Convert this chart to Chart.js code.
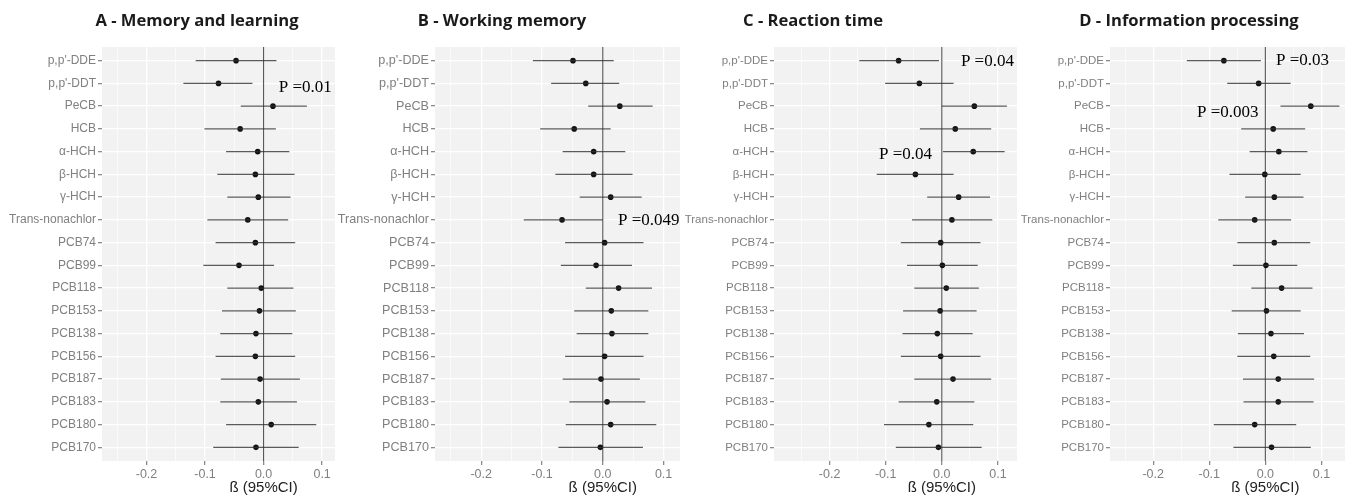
<!DOCTYPE html>
<html>
<head>
<meta charset="utf-8">
<script src="https://cdn.jsdelivr.net/npm/chart.js@4.4.1/dist/chart.umd.min.js"></script>
<style>
  body { margin: 0; background: #fff; width: 1349px; height: 500px; position: relative; overflow: hidden; }
  canvas { position: absolute; top: 0; }
</style>
</head>
<body>
<script>
const pollutants = ["p,p'-DDE", "p,p'-DDT", 'PeCB', 'HCB', 'α-HCH', 'β-HCH', 'γ-HCH', 'Trans-nonachlor',
  'PCB74', 'PCB99', 'PCB118', 'PCB153', 'PCB138', 'PCB156', 'PCB187', 'PCB183', 'PCB180', 'PCB170'];

// A - Memory and learning
const memEst = [-0.047, -0.077, 0.016, -0.040, -0.010, -0.014, -0.009, -0.027, -0.014, -0.042, -0.004, -0.007, -0.013, -0.014, -0.006, -0.009, 0.013, -0.013];
const memLo  = [-0.116, -0.137, -0.039, -0.101, -0.064, -0.079, -0.062, -0.096, -0.082, -0.103, -0.062, -0.071, -0.074, -0.082, -0.073, -0.074, -0.064, -0.086];
const memHi  = [0.022, -0.019, 0.074, 0.021, 0.044, 0.053, 0.046, 0.042, 0.054, 0.018, 0.051, 0.055, 0.049, 0.054, 0.062, 0.057, 0.090, 0.060];

// B - Working memory
const workEst = [-0.049, -0.028, 0.028, -0.047, -0.015, -0.015, 0.013, -0.067, 0.003, -0.011, 0.026, 0.014, 0.015, 0.003, -0.003, 0.007, 0.013, -0.004];
const workLo  = [-0.115, -0.085, -0.024, -0.103, -0.066, -0.078, -0.038, -0.130, -0.062, -0.069, -0.028, -0.047, -0.043, -0.062, -0.066, -0.055, -0.061, -0.073];
const workHi  = [0.018, 0.027, 0.082, 0.013, 0.037, 0.049, 0.064, 0.000, 0.067, 0.048, 0.081, 0.075, 0.075, 0.067, 0.061, 0.070, 0.088, 0.066];

// C - Reaction time
const reactEst = [-0.077, -0.040, 0.058, 0.024, 0.056, -0.047, 0.030, 0.018, -0.002, 0.001, 0.008, -0.003, -0.008, -0.002, 0.020, -0.009, -0.023, -0.006];
const reactLo  = [-0.147, -0.101, 0.000, -0.039, 0.002, -0.116, -0.026, -0.053, -0.073, -0.062, -0.049, -0.069, -0.070, -0.073, -0.049, -0.077, -0.103, -0.082];
const reactHi  = [-0.005, 0.021, 0.116, 0.088, 0.112, 0.021, 0.086, 0.090, 0.069, 0.064, 0.066, 0.062, 0.055, 0.069, 0.088, 0.058, 0.056, 0.071];

// D - Information processing
const infoEst = [-0.074, -0.012, 0.081, 0.014, 0.024, -0.001, 0.016, -0.019, 0.016, 0.001, 0.029, 0.002, 0.010, 0.015, 0.023, 0.023, -0.019, 0.011];
const infoLo  = [-0.140, -0.068, 0.027, -0.043, -0.028, -0.064, -0.036, -0.084, -0.050, -0.058, -0.025, -0.060, -0.049, -0.050, -0.040, -0.039, -0.092, -0.057];
const infoHi  = [-0.008, 0.045, 0.132, 0.071, 0.075, 0.063, 0.068, 0.046, 0.080, 0.057, 0.084, 0.063, 0.069, 0.080, 0.087, 0.086, 0.055, 0.081];

const xGridValues = [-0.25, -0.2, -0.15, -0.1, -0.05, 0, 0.05, 0.1];
const xMajorLabels = { '-0.2': '-0.2', '-0.1': '-0.1', '0': '0.0', '0.1': '0.1' };
const xTitle = 'ß (95%CI)';

const panels = [
  { title: 'A - Memory and learning', titleX: 197, est: memEst, lo: memLo, hi: memHi, xmin: -0.276, xmax: 0.122,
    cl: 0, cr: 394, plotLeft: 102, plotRight: 335, fs: 12,
    notes: [{ x: 0.026, y: 1.2, text: 'P =0.01' }] },
  { title: 'B - Working memory', titleX: 502, est: workEst, lo: workLo, hi: workHi, xmin: -0.276, xmax: 0.127,
    cl: 320, cr: 690, plotLeft: 435, plotRight: 680, fs: 12.6,
    notes: [{ x: 0.025, y: 7.03, text: 'P =0.049' }] },
  { title: 'C - Reaction time', titleX: 813, est: reactEst, lo: reactLo, hi: reactHi, xmin: -0.299, xmax: 0.134,
    cl: 600, cr: 1022, plotLeft: 774, plotRight: 1017, fs: 11.5,
    notes: [{ x: 0.034, y: 0.05, text: 'P =0.04' }, { x: -0.112, y: 4.14, text: 'P =0.04' }] },
  { title: 'D - Information processing', titleX: 1189, est: infoEst, lo: infoLo, hi: infoHi, xmin: -0.277, xmax: 0.142,
    cl: 1005, cr: 1349, plotLeft: 1110, plotRight: 1349, fs: 11.5,
    notes: [{ x: 0.019, y: 0.0, text: 'P =0.03' }, { x: -0.122, y: 2.27, text: 'P =0.003' }] }
];

// grey panel, zero line, title, p-value notes and axis title
const forestPlugin = {
  id: 'forest',
  beforeDraw(chart) {
    const a = chart.chartArea, ctx = chart.ctx;
    ctx.save();
    ctx.fillStyle = '#f2f2f2';
    ctx.fillRect(a.left, a.top, a.right - a.left, a.bottom - a.top);
    ctx.restore();
  },
  beforeDatasetsDraw(chart) {
    const a = chart.chartArea, ctx = chart.ctx;
    const x0 = chart.scales.x.getPixelForValue(0);
    ctx.save();
    ctx.strokeStyle = '#555';
    ctx.lineWidth = 1.1;
    ctx.beginPath();
    ctx.moveTo(x0, a.top);
    ctx.lineTo(x0, a.bottom);
    ctx.stroke();
    ctx.restore();
  },
  afterDraw(chart, args, opts) {
    const ctx = chart.ctx, xs = chart.scales.x, ys = chart.scales.y;
    ctx.save();
    ctx.textBaseline = 'middle';
    ctx.fillStyle = '#1a1a1a';
    ctx.font = "bold 16.6px 'Open Sans'";
    ctx.textAlign = 'center';
    ctx.fillText(opts.title, opts.titleX, 21);

    ctx.fillStyle = '#000';
    ctx.font = "17px 'Liberation Serif'";
    ctx.textAlign = 'left';
    opts.notes.forEach(n => ctx.fillText(n.text, xs.getPixelForValue(n.x), ys.getPixelForValue(n.y)));

    ctx.fillStyle = '#222';
    ctx.font = "15px 'Liberation Sans'";
    ctx.textAlign = 'center';
    ctx.fillText(xTitle, xs.getPixelForValue(0), 488);
    ctx.restore();
  }
};

panels.forEach(p => {
  const canvas = document.createElement('canvas');
  const w = p.cr - p.cl;
  canvas.width = w;
  canvas.height = 500;
  canvas.style.left = p.cl + 'px';
  canvas.style.width = w + 'px';
  canvas.style.height = '500px';
  document.body.appendChild(canvas);

  const pr = p.cr - p.plotRight;
  const yWidth = p.plotLeft - p.cl;

  const bars = pollutants.map((name, i) => ({
    data: [{ x: p.lo[i], y: i }, { x: p.hi[i], y: i }],
    showLine: true,
    borderColor: 'rgba(50,50,50,0.8)',
    borderWidth: 1.3,
    pointRadius: 0
  }));

  new Chart(canvas, {
    type: 'scatter',
    data: {
      datasets: [
        ...bars,
        {
          data: pollutants.map((name, i) => ({ x: p.est[i], y: i })),
          pointRadius: 2.8,
          pointBackgroundColor: '#111',
          pointBorderWidth: 0
        }
      ]
    },
    options: {
      responsive: false,
      animation: false,
      devicePixelRatio: 1,
      layout: { padding: { left: 0, right: pr, top: 47, bottom: 0 } },
      plugins: {
        legend: { display: false },
        tooltip: { enabled: false },
        forest: { notes: p.notes, title: p.title, titleX: p.titleX - p.cl }
      },
      scales: {
        x: {
          type: 'linear',
          min: p.xmin,
          max: p.xmax,
          afterBuildTicks: s => { s.ticks = xGridValues.map(v => ({ value: v })); },
          afterFit: s => { s.height = 39; },
          border: { display: false },
          grid: {
            color: '#fff',
            lineWidth: c => (xMajorLabels[String(c.tick.value)] ? 1.3 : 0.6),
            tickColor: c => (xMajorLabels[String(c.tick.value)] ? '#8a8a8a' : 'rgba(0,0,0,0)'),
            tickLength: 4
          },
          ticks: {
            autoSkip: false,
            maxRotation: 0,
            padding: 2,
            color: '#808080',
            font: { family: 'Liberation Sans', size: 12.5 },
            callback: v => xMajorLabels[String(v)] || ''
          }
        },
        y: {
          type: 'linear',
          reverse: true,
          min: -0.6,
          max: 17.6,
          afterBuildTicks: s => { s.ticks = pollutants.map((n, i) => ({ value: i })); },
          afterFit: s => { s.width = yWidth; },
          border: { display: false },
          grid: { color: '#fff', lineWidth: 1.3, tickColor: '#8a8a8a', tickLength: 4 },
          ticks: {
            autoSkip: false,
            padding: 2,
            color: '#808080',
            font: { family: 'Liberation Sans', size: p.fs },
            callback: v => pollutants[v]
          }
        }
      }
    },
    plugins: [forestPlugin]
  });
});
</script>
</body>
</html>
